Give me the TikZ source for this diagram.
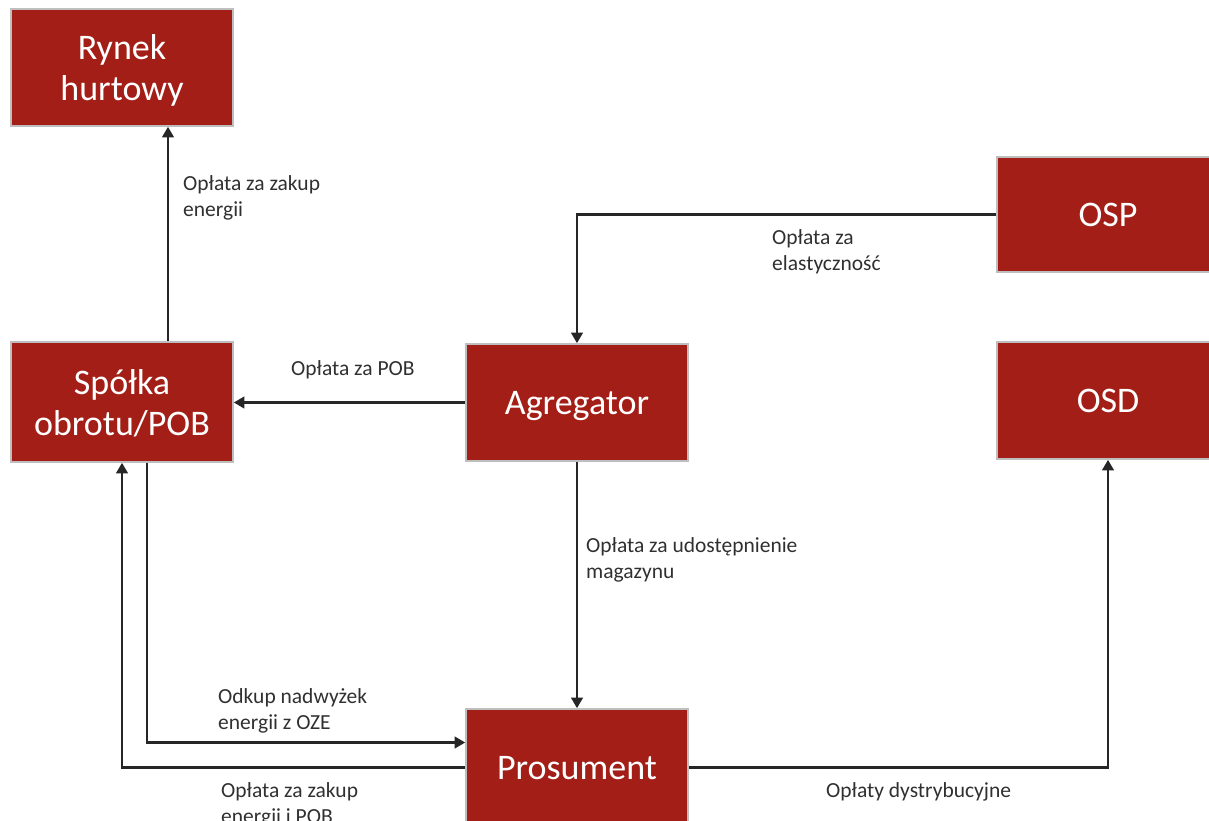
\documentclass[tikz,border=0pt]{standalone}
\usepackage{fontspec}
\setmainfont{Carlito}
\usetikzlibrary{arrows.meta}
\definecolor{boxred}{RGB}{162,30,22}
\definecolor{boxedge}{RGB}{190,190,190}
\definecolor{linecol}{RGB}{38,38,38}
\definecolor{labelcol}{RGB}{48,48,48}
\begin{document}
\begin{tikzpicture}[x=1pt,y=-1pt,
  entity/.style={rectangle, fill=boxred, draw=boxedge, line width=1.6pt,
    minimum width=222pt, minimum height=117pt, inner sep=0pt, text depth=0pt,
    text=white, align=center, font=\fontsize{36}{41}\selectfont},
  flow/.style={draw=linecol, line width=2.4pt,
    -{Triangle[length=10.5pt,width=11.5pt]}},
  flowlabel/.style={anchor=base west, inner sep=0pt, align=left,
    text=labelcol, font=\fontsize{21.5}{26}\selectfont}]
\useasboundingbox (0,0) rectangle (1209,821);
\clip (0,0) rectangle (1209,821);

% market participants
\node[entity] (ryn) at (122,67.5) {Rynek\\hurtowy};
\node[entity, minimum height=120pt] (spo) at (122,402) {Spółka\\obrotu/POB};
\node[entity] (agr) at (577,402.5) {Agregator};
\node[entity, minimum height=115pt] (osp) at (1108,214.5) {OSP};
\node[entity] (osd) at (1108,400.5) {OSD};
\node[entity] (pro) at (577,767.5) {Prosument};

% payment flows
\draw[flow] ([xshift=46pt]spo.north) -- ([xshift=46pt]ryn.south);
\draw[flow] (agr.west) -- (agr.west -| spo.east);
\draw[flow] (osp.west) -| (agr.north);
\draw[flow] (agr.south) -- (pro.north);
\draw[flow] ([xshift=25pt]spo.south) |- ([yshift=25pt]pro.west);
\draw[flow] (pro.west) -| (spo.south);
\draw[flow] (pro.east) -| (osd.south);

% flow descriptions (anchored at the baseline of the last line)
\node[flowlabel] (l1) at (183,216) {Opłata za zakup\\energii};
\node[flowlabel] (l2) at (291,375) {Opłata za POB};
\node[flowlabel] (l3) at (772,270) {Opłata za\\elastyczność};
\node[flowlabel] (l4) at (586,578) {Opłata za udostępnienie\\magazynu};
\node[flowlabel] (l5) at (218,729) {Odkup nadwyżek\\energii z OZE};
\node[flowlabel] (l6) at (221,823) {Opłata za zakup\\energii i POB};
\node[flowlabel] (l7) at (826,797) {Opłaty dystrybucyjne};
\end{tikzpicture}
\end{document}
